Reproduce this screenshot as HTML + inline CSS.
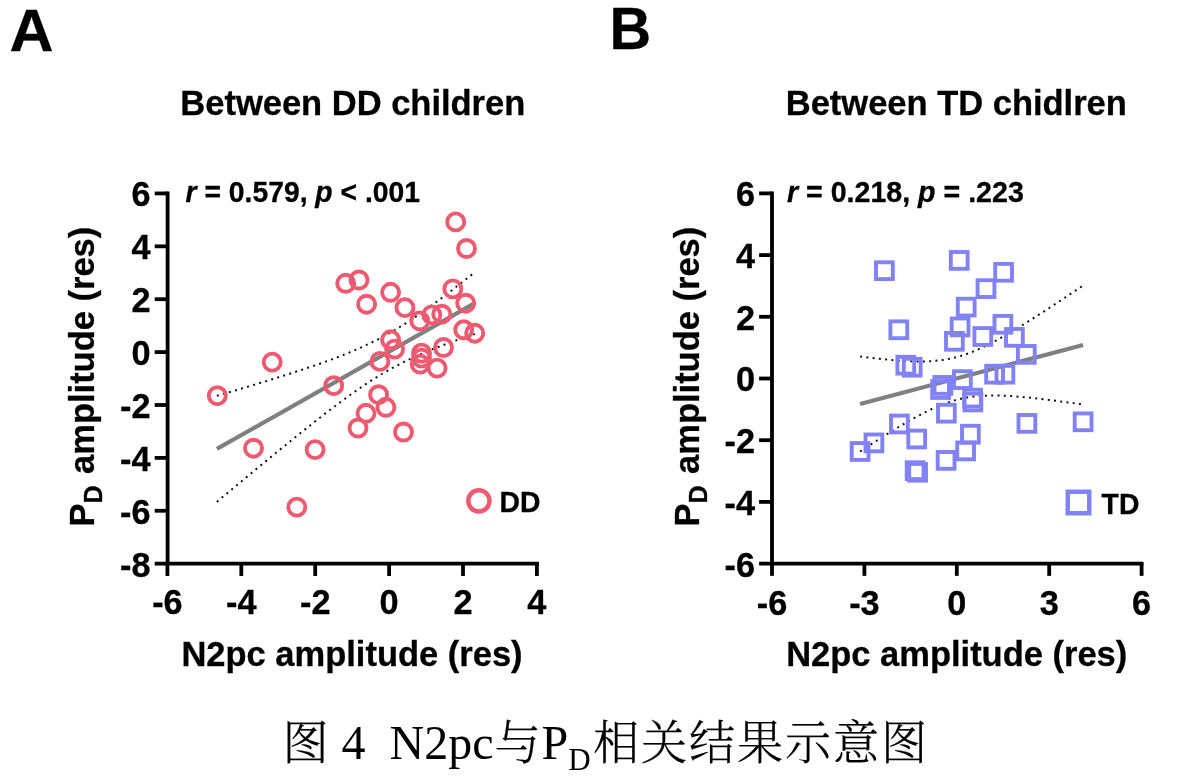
<!DOCTYPE html>
<html lang="zh"><head><meta charset="utf-8"><title>图 4 N2pc与PD相关结果示意图</title>
<style>
html,body{margin:0;padding:0;background:#fff;}
body{width:1201px;height:782px;overflow:hidden;}
svg{display:block;filter:blur(0.55px);}
text{font-family:"Liberation Sans",sans-serif;font-weight:bold;fill:#000;stroke:#000;stroke-width:0.3px;}
.cap{font-family:"Liberation Serif","Noto Serif CJK SC",serif;font-weight:normal;white-space:pre;stroke:none;}
.ax{stroke:#000;stroke-width:3.8;fill:none;stroke-linecap:butt;}
.reg{stroke:#808080;stroke-width:4.2;fill:none;}
.ci{stroke:#111;stroke-width:2;fill:none;stroke-dasharray:2 4.3;}
.dd{fill:none;stroke:#ee5b70;stroke-width:3.9;}
.td{fill:none;stroke:#8182f5;stroke-width:3.9;}
.cj{font-size:46.2px;letter-spacing:1.8px;font-weight:300;stroke:#000;stroke-width:0.25px;}
.tk{font-size:34.3px;}
.lab{font-size:34.5px;}
.st{font-size:28.3px;}
</style></head><body>
<svg width="1201" height="782" viewBox="0 0 1201 782">
<rect width="1201" height="782" fill="#fff"/>

<text transform="translate(9.40 51.20) scale(1 0.98)" style="font-size:61px">A</text>
<text transform="translate(609.50 49.20) scale(1 1.04)" style="font-size:57.7px">B</text>
<text transform="translate(352.80 114.50) scale(1 1.04)" class="lab" text-anchor="middle">Between DD children</text>
<text transform="translate(956.30 114.50) scale(1 1.04)" class="lab" text-anchor="middle">Between TD chidlren</text>
<text transform="translate(185.60 202.30) scale(1 1.04)" class="st"><tspan font-style="italic">r</tspan> = 0.579, <tspan font-style="italic">p</tspan> &lt; .001</text>
<text transform="translate(787.00 202.30) scale(1 1.04)" class="st" style="font-size:28.6px"><tspan font-style="italic">r</tspan> = 0.218, <tspan font-style="italic">p</tspan> = .223</text>
<path class="ax" d="M167.60 191.55 V563.65 H538.95"/>
<path class="ax" d="M154.70 193.44 H167.60"/>
<text transform="translate(150.60 206.34) scale(1 1.04)" class="tk" text-anchor="end">6</text>
<path class="ax" d="M154.70 246.33 H167.60"/>
<text transform="translate(150.60 259.23) scale(1 1.04)" class="tk" text-anchor="end">4</text>
<path class="ax" d="M154.70 299.21 H167.60"/>
<text transform="translate(150.60 312.11) scale(1 1.04)" class="tk" text-anchor="end">2</text>
<path class="ax" d="M154.70 352.10 H167.60"/>
<text transform="translate(150.60 365.00) scale(1 1.04)" class="tk" text-anchor="end">0</text>
<path class="ax" d="M154.70 404.99 H167.60"/>
<text transform="translate(150.60 417.89) scale(1 1.04)" class="tk" text-anchor="end">-2</text>
<path class="ax" d="M154.70 457.87 H167.60"/>
<text transform="translate(150.60 470.77) scale(1 1.04)" class="tk" text-anchor="end">-4</text>
<path class="ax" d="M154.70 510.76 H167.60"/>
<text transform="translate(150.60 523.66) scale(1 1.04)" class="tk" text-anchor="end">-6</text>
<path class="ax" d="M154.70 563.64 H167.60"/>
<text transform="translate(150.60 576.54) scale(1 1.04)" class="tk" text-anchor="end">-8</text>
<path class="ax" d="M167.40 563.65 V575.95"/>
<text transform="translate(167.40 614.45) scale(1 1.04)" class="tk" text-anchor="middle">-6</text>
<path class="ax" d="M241.30 563.65 V575.95"/>
<text transform="translate(241.30 614.45) scale(1 1.04)" class="tk" text-anchor="middle">-4</text>
<path class="ax" d="M315.20 563.65 V575.95"/>
<text transform="translate(315.20 614.45) scale(1 1.04)" class="tk" text-anchor="middle">-2</text>
<path class="ax" d="M389.10 563.65 V575.95"/>
<text transform="translate(389.10 614.45) scale(1 1.04)" class="tk" text-anchor="middle">0</text>
<path class="ax" d="M463.00 563.65 V575.95"/>
<text transform="translate(463.00 614.45) scale(1 1.04)" class="tk" text-anchor="middle">2</text>
<path class="ax" d="M536.90 563.65 V575.95"/>
<text transform="translate(536.90 614.45) scale(1 1.04)" class="tk" text-anchor="middle">4</text>
<path class="ax" d="M772.00 191.55 V563.55 H1143.50"/>
<path class="ax" d="M759.10 193.40 H772.00"/>
<text transform="translate(755.00 206.30) scale(1 1.04)" class="tk" text-anchor="end">6</text>
<path class="ax" d="M759.10 255.10 H772.00"/>
<text transform="translate(755.00 268.00) scale(1 1.04)" class="tk" text-anchor="end">4</text>
<path class="ax" d="M759.10 316.80 H772.00"/>
<text transform="translate(755.00 329.70) scale(1 1.04)" class="tk" text-anchor="end">2</text>
<path class="ax" d="M759.10 378.50 H772.00"/>
<text transform="translate(755.00 391.40) scale(1 1.04)" class="tk" text-anchor="end">0</text>
<path class="ax" d="M759.10 440.20 H772.00"/>
<text transform="translate(755.00 453.10) scale(1 1.04)" class="tk" text-anchor="end">-2</text>
<path class="ax" d="M759.10 501.90 H772.00"/>
<text transform="translate(755.00 514.80) scale(1 1.04)" class="tk" text-anchor="end">-4</text>
<path class="ax" d="M759.10 563.60 H772.00"/>
<text transform="translate(755.00 576.50) scale(1 1.04)" class="tk" text-anchor="end">-6</text>
<path class="ax" d="M772.00 563.55 V575.85"/>
<text transform="translate(772.00 615.25) scale(1 1.04)" class="tk" text-anchor="middle">-6</text>
<path class="ax" d="M864.40 563.55 V575.85"/>
<text transform="translate(864.40 615.25) scale(1 1.04)" class="tk" text-anchor="middle">-3</text>
<path class="ax" d="M956.80 563.55 V575.85"/>
<text transform="translate(956.80 615.25) scale(1 1.04)" class="tk" text-anchor="middle">0</text>
<path class="ax" d="M1049.20 563.55 V575.85"/>
<text transform="translate(1049.20 615.25) scale(1 1.04)" class="tk" text-anchor="middle">3</text>
<path class="ax" d="M1141.60 563.55 V575.85"/>
<text transform="translate(1141.60 615.25) scale(1 1.04)" class="tk" text-anchor="middle">6</text>
<text transform="translate(352.00 665.80) scale(1 1.04)" class="lab" text-anchor="middle">N2pc amplitude (res)</text>
<text transform="translate(956.70 665.80) scale(1 1.04)" class="lab" text-anchor="middle">N2pc amplitude (res)</text>
<text transform="translate(94.10 526.40) rotate(-90) scale(1 1.04)" class="lab">P<tspan font-size="25" dy="8">D</tspan><tspan dy="-8" dx="1.8"> amplitude (res)</tspan></text>
<text transform="translate(698.60 526.40) rotate(-90) scale(1 1.04)" class="lab">P<tspan font-size="25" dy="8">D</tspan><tspan dy="-8" dx="1.8"> amplitude (res)</tspan></text>
<path class="reg" d="M216.9 448.9 L474.8 303.1"/>
<path class="ci" d="M216.9 395.9 L221.3 394.6 L225.7 393.3 L230.0 392.0 L234.4 390.7 L238.8 389.4 L243.1 388.1 L247.5 386.8 L251.9 385.5 L256.3 384.2 L260.6 382.8 L265.0 381.5 L269.4 380.1 L273.7 378.8 L278.1 377.4 L282.5 376.0 L286.9 374.7 L291.2 373.3 L295.6 371.8 L300.0 370.4 L304.3 369.0 L308.7 367.5 L313.1 366.0 L317.5 364.5 L321.8 363.0 L326.2 361.4 L330.6 359.8 L334.9 358.2 L339.3 356.5 L343.7 354.8 L348.1 353.0 L352.4 351.2 L356.8 349.3 L361.2 347.4 L365.5 345.4 L369.9 343.3 L374.3 341.2 L378.7 339.0 L383.0 336.7 L387.4 334.3 L391.8 331.8 L396.1 329.2 L400.5 326.5 L404.9 323.8 L409.3 321.0 L413.6 318.1 L418.0 315.1 L422.4 312.1 L426.7 309.0 L431.1 305.8 L435.5 302.6 L439.9 299.4 L444.2 296.1 L448.6 292.8 L453.0 289.4 L457.3 286.0 L461.7 282.6 L466.1 279.2 L470.5 275.7 L474.8 272.2"/>
<path class="ci" d="M216.9 501.9 L221.3 498.2 L225.7 494.5 L230.0 490.9 L234.4 487.2 L238.8 483.6 L243.1 480.0 L247.5 476.3 L251.9 472.7 L256.3 469.1 L260.6 465.5 L265.0 461.9 L269.4 458.3 L273.7 454.7 L278.1 451.1 L282.5 447.6 L286.9 444.0 L291.2 440.5 L295.6 437.0 L300.0 433.4 L304.3 430.0 L308.7 426.5 L313.1 423.0 L317.5 419.6 L321.8 416.2 L326.2 412.8 L330.6 409.5 L334.9 406.2 L339.3 402.9 L343.7 399.7 L348.1 396.5 L352.4 393.3 L356.8 390.3 L361.2 387.3 L365.5 384.3 L369.9 381.4 L374.3 378.7 L378.7 375.9 L383.0 373.3 L387.4 370.8 L391.8 368.3 L396.1 366.0 L400.5 363.7 L404.9 361.5 L409.3 359.4 L413.6 357.3 L418.0 355.3 L422.4 353.4 L426.7 351.6 L431.1 349.8 L435.5 348.1 L439.9 346.4 L444.2 344.7 L448.6 343.1 L453.0 341.5 L457.3 340.0 L461.7 338.4 L466.1 336.9 L470.5 335.4 L474.8 334.0"/>
<path class="reg" d="M860.1 404.0 L1083.1 345.0"/>
<path class="ci" d="M860.1 356.5 L863.9 357.0 L867.6 357.4 L871.4 357.9 L875.2 358.3 L879.0 358.7 L882.8 359.1 L886.5 359.5 L890.3 359.9 L894.1 360.2 L897.9 360.5 L901.7 360.8 L905.4 361.0 L909.2 361.2 L913.0 361.3 L916.8 361.4 L920.6 361.4 L924.3 361.4 L928.1 361.3 L931.9 361.1 L935.7 360.8 L939.5 360.4 L943.2 359.9 L947.0 359.3 L950.8 358.5 L954.6 357.6 L958.4 356.7 L962.1 355.5 L965.9 354.3 L969.7 352.9 L973.5 351.4 L977.3 349.8 L981.0 348.1 L984.8 346.3 L988.6 344.5 L992.4 342.5 L996.2 340.5 L999.9 338.4 L1003.7 336.3 L1007.5 334.1 L1011.3 331.9 L1015.0 329.6 L1018.8 327.3 L1022.6 325.0 L1026.4 322.6 L1030.2 320.3 L1033.9 317.9 L1037.7 315.5 L1041.5 313.0 L1045.3 310.6 L1049.1 308.1 L1052.8 305.6 L1056.6 303.1 L1060.4 300.6 L1064.2 298.1 L1068.0 295.6 L1071.7 293.1 L1075.5 290.6 L1079.3 288.0 L1083.1 285.5"/>
<path class="ci" d="M860.1 451.5 L863.9 449.1 L867.6 446.6 L871.4 444.1 L875.2 441.7 L879.0 439.3 L882.8 436.9 L886.5 434.5 L890.3 432.2 L894.1 429.8 L897.9 427.5 L901.7 425.3 L905.4 423.0 L909.2 420.9 L913.0 418.7 L916.8 416.6 L920.6 414.6 L924.3 412.7 L928.1 410.8 L931.9 409.0 L935.7 407.3 L939.5 405.7 L943.2 404.2 L947.0 402.8 L950.8 401.5 L954.6 400.4 L958.4 399.4 L962.1 398.5 L965.9 397.7 L969.7 397.1 L973.5 396.6 L977.3 396.2 L981.0 395.9 L984.8 395.7 L988.6 395.6 L992.4 395.5 L996.2 395.5 L999.9 395.6 L1003.7 395.7 L1007.5 395.9 L1011.3 396.1 L1015.0 396.4 L1018.8 396.7 L1022.6 397.0 L1026.4 397.4 L1030.2 397.7 L1033.9 398.1 L1037.7 398.6 L1041.5 399.0 L1045.3 399.4 L1049.1 399.9 L1052.8 400.4 L1056.6 400.9 L1060.4 401.4 L1064.2 401.9 L1068.0 402.4 L1071.7 402.9 L1075.5 403.5 L1079.3 404.0 L1083.1 404.6"/>
<g class="dd">
<circle cx="217.3" cy="395.7" r="8.5"/>
<circle cx="272.2" cy="362.1" r="8.5"/>
<circle cx="253.5" cy="448.2" r="8.5"/>
<circle cx="315.1" cy="449.6" r="8.5"/>
<circle cx="296.8" cy="507.1" r="8.5"/>
<circle cx="333.7" cy="385.7" r="8.5"/>
<circle cx="345.7" cy="283.3" r="8.5"/>
<circle cx="359.0" cy="280.0" r="8.5"/>
<circle cx="366.6" cy="304.2" r="8.5"/>
<circle cx="390.6" cy="292.3" r="8.5"/>
<circle cx="404.9" cy="307.6" r="8.5"/>
<circle cx="419.8" cy="320.9" r="8.5"/>
<circle cx="431.8" cy="314.9" r="8.5"/>
<circle cx="441.8" cy="314.2" r="8.5"/>
<circle cx="452.8" cy="288.9" r="8.5"/>
<circle cx="465.7" cy="303.2" r="8.5"/>
<circle cx="463.7" cy="329.8" r="8.5"/>
<circle cx="474.7" cy="333.2" r="8.5"/>
<circle cx="390.6" cy="339.8" r="8.5"/>
<circle cx="394.6" cy="349.1" r="8.5"/>
<circle cx="379.9" cy="361.4" r="8.5"/>
<circle cx="443.5" cy="347.5" r="8.5"/>
<circle cx="421.5" cy="353.1" r="8.5"/>
<circle cx="421.5" cy="358.1" r="8.5"/>
<circle cx="420.2" cy="364.1" r="8.5"/>
<circle cx="437.1" cy="368.1" r="8.5"/>
<circle cx="378.6" cy="394.7" r="8.5"/>
<circle cx="385.9" cy="407.3" r="8.5"/>
<circle cx="366.0" cy="413.3" r="8.5"/>
<circle cx="358.0" cy="428.0" r="8.5"/>
<circle cx="403.5" cy="432.0" r="8.5"/>
<circle cx="455.7" cy="221.9" r="8.5"/>
<circle cx="466.5" cy="248.5" r="8.5"/>
<circle cx="478.9" cy="500.8" r="10.6" stroke-width="4.5"/>
</g>
<g class="td">
<rect x="876.0" y="262.3" width="16.8" height="16.8"/>
<rect x="950.8" y="252.0" width="16.8" height="16.8"/>
<rect x="995.2" y="263.9" width="16.8" height="16.8"/>
<rect x="977.6" y="280.2" width="16.8" height="16.8"/>
<rect x="957.8" y="298.7" width="16.8" height="16.8"/>
<rect x="890.4" y="321.4" width="16.8" height="16.8"/>
<rect x="951.7" y="318.5" width="16.8" height="16.8"/>
<rect x="946.0" y="332.9" width="16.8" height="16.8"/>
<rect x="974.4" y="328.1" width="16.8" height="16.8"/>
<rect x="994.5" y="315.9" width="16.8" height="16.8"/>
<rect x="1006.0" y="329.0" width="16.8" height="16.8"/>
<rect x="1017.9" y="346.0" width="16.8" height="16.8"/>
<rect x="897.4" y="356.8" width="16.8" height="16.8"/>
<rect x="903.8" y="358.8" width="16.8" height="16.8"/>
<rect x="986.2" y="365.8" width="16.8" height="16.8"/>
<rect x="996.5" y="365.8" width="16.8" height="16.8"/>
<rect x="954.0" y="371.2" width="16.8" height="16.8"/>
<rect x="934.5" y="377.0" width="16.8" height="16.8"/>
<rect x="932.2" y="381.1" width="16.8" height="16.8"/>
<rect x="964.2" y="389.7" width="16.8" height="16.8"/>
<rect x="964.5" y="393.6" width="16.8" height="16.8"/>
<rect x="938.0" y="404.8" width="16.8" height="16.8"/>
<rect x="891.0" y="415.6" width="16.8" height="16.8"/>
<rect x="1018.5" y="415.0" width="16.8" height="16.8"/>
<rect x="1074.7" y="413.4" width="16.8" height="16.8"/>
<rect x="908.3" y="430.6" width="16.8" height="16.8"/>
<rect x="962.0" y="425.8" width="16.8" height="16.8"/>
<rect x="865.5" y="434.5" width="16.8" height="16.8"/>
<rect x="851.7" y="443.1" width="16.8" height="16.8"/>
<rect x="957.2" y="442.5" width="16.8" height="16.8"/>
<rect x="937.7" y="452.0" width="16.8" height="16.8"/>
<rect x="906.7" y="462.3" width="16.8" height="16.8"/>
<rect x="909.2" y="463.9" width="16.8" height="16.8"/>
<rect x="1067.75" y="491.75" width="21.5" height="21.5" stroke-width="4.5"/>
</g>
<text transform="translate(499.60 511.80) scale(1 1.04)" class="st">DD</text>
<text transform="translate(1101.60 513.80) scale(1 1.04)" class="st">TD</text>
<text class="cap" x="282.5" y="758.8" font-size="48" xml:space="preserve"><tspan class="cj">图</tspan><tspan dx="-0.9"> 4  N2pc</tspan><tspan class="cj" dx="0.9">与</tspan><tspan dx="-0.9">P</tspan><tspan font-size="31" dy="10.7">D</tspan><tspan class="cj" dy="-10.7" dx="2.3">相关结果示意图</tspan></text>
</svg></body></html>
